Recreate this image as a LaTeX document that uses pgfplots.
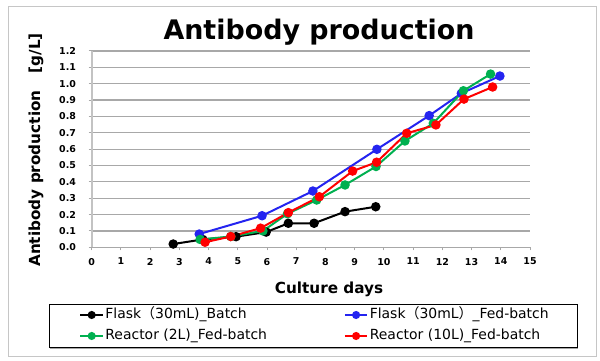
\documentclass[border=0pt]{standalone}
\usepackage{pgfplots}
\pgfplotsset{compat=1.18}
\usepackage{fontspec}
\setmainfont{DejaVu Sans}
\newfontfamily\cjk{Noto Sans CJK JP}
\definecolor{cblue}{RGB}{36,36,240}
\definecolor{cgreen}{RGB}{0,176,80}
\definecolor{cred}{RGB}{255,0,0}
\definecolor{gridc}{RGB}{168,168,168}
\definecolor{yaxc}{RGB}{195,195,195}
\newcommand{\lt}{{\cjk （}}
\newcommand{\rt}{{\cjk ）}}
\begin{document}
\begin{tikzpicture}[x=1bp,y=1bp]
\path[use as bounding box] (0,0) rectangle (600,360);
\draw[gray!45, line width=0.8bp] (8.3,3.5) rectangle (596,354);
\node[anchor=base, font=\fontsize{27}{30}\selectfont\bfseries, inner sep=0pt] at (319,320.7) {Antibody production};
\node[anchor=base, font=\fontsize{15.3}{18}\selectfont\bfseries, inner sep=0pt] at (329,66.7) {Culture days};
\node[anchor=base, rotate=90, font=\fontsize{15.3}{18}\selectfont\bfseries, inner sep=0pt] at (40,210) {Antibody production\hspace{17bp}[g/L]};
\begin{axis}[
  at={(91.7bp,112.7bp)}, anchor=south west,
  scale only axis, width=438.3bp, height=196.3bp,
  xmin=0, xmax=15, ymin=0, ymax=1.2,
  xtick={0,1,...,15},
  ytick={0,0.1,0.2,0.3,0.4,0.5,0.6,0.7,0.8,0.9,1.0,1.1,1.2},
  axis x line*=bottom, axis y line*=left,
  x axis line style={-, draw=gridc, line width=1.2bp},
  y axis line style={-, draw=yaxc, line width=2bp},
  ymajorgrids, grid style={draw=gridc, line width=1.2bp},
  tick align=outside, major tick length=3bp,
  tick style={draw=gridc, line width=1bp},
  /pgf/number format/assume math mode=true,
  ticklabel style={font=\fontsize{9.5}{11}\selectfont\bfseries},
  y tick label style={/pgf/number format/fixed, /pgf/number format/fixed zerofill, /pgf/number format/precision=1},
  yticklabel style={anchor=east, inner sep=0pt, xshift=-12.5bp},
  xticklabel style={anchor=north, inner sep=0pt, yshift=-7.5bp},
  clip=false,
  every axis plot/.append style={line width=2bp, mark=*, mark size=3.7bp},
  legend style={at={(-0.0283,-0.3107)}, anchor=north west, draw=none, fill=none,
    inner sep=0pt, row sep=8bp, column sep=0pt,
    font=\fontsize{14}{16}\selectfont,
    nodes={inner sep=0pt, text height=10bp, text depth=3bp}},
  legend columns=2,
  legend cell align=left,
  legend image code/.code={\draw[mark repeat=2, mark phase=2, mark size=3bp] plot coordinates {(0bp,0bp) (11.2bp,0bp) (22.4bp,0bp)};},
]
\addplot[color=black, mark options={fill=black}] coordinates {
(2.79,0.020) (3.80,0.048) (4.94,0.065) (5.97,0.093) (6.73,0.147) (7.61,0.147) (8.67,0.218) (9.72,0.248)};
\addlegendentry{\makebox[240bp][l]{\hspace{1.5bp}Flask\lt 30mL)\_Batch}}
\addplot[color=cblue, mark options={fill=cblue}] coordinates {
(3.68,0.081) (5.83,0.193) (7.57,0.344) (9.76,0.599) (11.55,0.805) (12.65,0.941) (13.97,1.047)};
\addlegendentry{\makebox[200bp][l]{\hspace{1.5bp}Flask\lt 30mL\rt\_Fed-batch}}
\addplot[color=cgreen, mark options={fill=cgreen}] coordinates {
(3.71,0.048) (4.76,0.066) (5.86,0.100) (6.70,0.205) (7.70,0.289) (8.67,0.381) (9.73,0.494) (10.72,0.650) (11.69,0.758) (12.72,0.957) (13.65,1.059)};
\addlegendentry{\makebox[240bp][l]{\hspace{1.5bp}Reactor (2L)\_Fed-batch}}
\addplot[color=cred, mark options={fill=cred}] coordinates {
(3.88,0.031) (4.76,0.066) (5.78,0.117) (6.73,0.212) (7.79,0.309) (8.93,0.466) (9.75,0.520) (10.78,0.697) (11.78,0.748) (12.74,0.906) (13.72,0.980)};
\addlegendentry{\makebox[200bp][l]{\hspace{1.5bp}Reactor (10L)\_Fed-batch}}
\end{axis}
\draw[gray!70, line width=1.2bp] (50,11.3) -- (578,11.3);
\draw[black, line width=0.9bp] (49.3,12.3) rectangle (577.3,55.7);
\end{tikzpicture}
\end{document}
